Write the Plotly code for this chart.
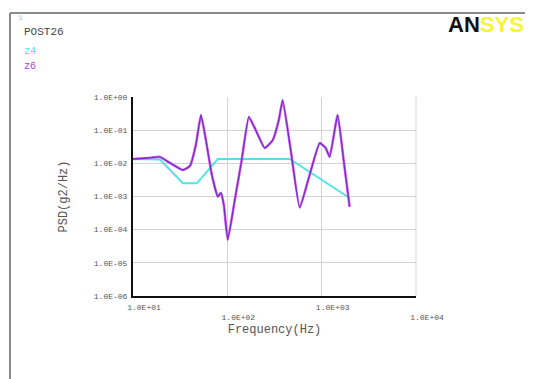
import plotly.graph_objects as go

# ---- data ----
freq_in = [10, 19.3, 33.8, 47.5, 79.3, 458, 1978]
psd_in = [0.0135, 0.013, 0.0025, 0.0025, 0.0135, 0.0135, 0.0009]

freq_out = [10, 14.4, 19.3, 24.6, 33.8, 40.1, 46.4, 52.5, 59.2, 68.5, 79.3, 85.3,
            91.8, 101, 120, 142, 169, 195, 249, 303, 351, 386, 470, 585, 746,
            953, 1103, 1216, 1476, 1709, 1978]
psd_out = [0.0135, 0.0145, 0.0156, 0.0103, 0.0063, 0.0083, 0.036, 0.288, 0.051,
           0.0045, 0.00098, 0.0013, 0.00056, 4.9e-5, 0.00079, 0.0126, 0.25, 0.117,
           0.029, 0.05, 0.2, 0.81, 0.025, 4.6e-4, 0.0045, 0.041, 0.029, 0.0156,
           0.288, 0.0126, 4.9e-4]

series_names = ["z4", "z6"]
x_tick_vals = [10, 100, 1000, 10000]
x_tick_text = ["1.0E+01", "<br>1.0E+02", "1.0E+03", "<br>1.0E+04"]
y_tick_vals = [1, 0.1, 0.01, 0.001, 0.0001, 0.00001, 0.000001]
y_tick_text = ["1.0E+00", "1.0E-01", "1.0E-02", "1.0E-03", "1.0E-04", "1.0E-05", "1.0E-06"]

OFF = 8  # default page body margin
WIN_W, WIN_H = 533, 379
W, H = WIN_W - OFF, WIN_H - OFF
# plot area in window pixels
L, R, T, B = 133, 416, 97, 296

MONO = "Liberation Mono, DejaVu Sans Mono, monospace"
CYAN = "#52e4e4"

fig = go.Figure()
fig.add_trace(go.Scatter(x=freq_in, y=psd_in, mode="lines",
                         line=dict(color=CYAN, width=2), name=series_names[0]))
fig.add_trace(go.Scatter(x=freq_out, y=psd_out, mode="lines",
                         line=dict(color="#d865f2", width=2.6, shape="spline", smoothing=0.4),
                         hoverinfo="skip", showlegend=False))
fig.add_trace(go.Scatter(x=freq_out, y=psd_out, mode="lines",
                         line=dict(color="#7430c4", width=1.3, shape="spline", smoothing=0.4),
                         name=series_names[1]))


def px_x(p):
    return (p - L) / (R - L)


def px_y(p):
    return (B - p) / (B - T)


fig.update_layout(
    width=W, height=H, autosize=False,
    margin=dict(l=L - OFF, r=WIN_W - R, t=T - OFF, b=WIN_H - B, pad=0),
    paper_bgcolor="white", plot_bgcolor="white",
    showlegend=False,
    xaxis=dict(type="log", range=[1, 4], tickvals=x_tick_vals, ticktext=x_tick_text,
               showgrid=True, gridcolor="#d4d4d4", gridwidth=1,
               showline=True, linecolor="#111", linewidth=2, ticks="",
               zeroline=False, ticklabelshift=11, ticklabelstandoff=2,
               tickfont=dict(family=MONO, size=8, color="#555"),
               title=dict(text="Frequency(Hz)", standoff=4,
                          font=dict(family=MONO, size=12, color="#555"))),
    yaxis=dict(type="log", range=[-6, 0], tickvals=y_tick_vals, ticktext=y_tick_text,
               showgrid=True, gridcolor="#d4d4d4", gridwidth=1,
               showline=True, linecolor="#111", linewidth=2, ticks="",
               zeroline=False, ticklabelstandoff=2,
               tickfont=dict(family=MONO, size=8, color="#555"),
               title=dict(text="PSD(g2/Hz)", standoff=24,
                          font=dict(family=MONO, size=12, color="#555"))),
)

# frame (top and left border of the window)
fig.add_shape(type="line", xref="paper", yref="paper",
              x0=px_x(10), x1=px_x(WIN_W + 5), y0=px_y(13), y1=px_y(13),
              line=dict(color="#8a8a8a", width=2))
fig.add_shape(type="line", xref="paper", yref="paper",
              x0=px_x(10), x1=px_x(10), y0=px_y(13), y1=px_y(WIN_H + 5),
              line=dict(color="#8a8a8a", width=2))
# right plot border gridline
fig.add_shape(type="line", xref="paper", yref="paper",
              x0=1, x1=1, y0=0, y1=1, line=dict(color="#d4d4d4", width=1))

texts = [
    ("1", 16, 18, 8, "#7fd8d8"),
    ("POST26", 22, 32, 11, "#444"),
    (series_names[0], 22, 51, 10, CYAN),
    (series_names[1], 22, 66, 10, "#b040e0"),
]
for t, x, y, s, c in texts:
    fig.add_annotation(text=t, xref="paper", yref="paper", x=px_x(x), y=px_y(y),
                       xanchor="left", yanchor="middle", showarrow=False,
                       font=dict(family=MONO, size=s, color=c))

fig.add_annotation(text="<b>AN</b><b><span style='color:#f4f43a'>SYS</span></b>",
                   xref="paper", yref="paper", x=px_x(446), y=px_y(24),
                   xanchor="left", yanchor="middle", showarrow=False,
                   font=dict(family="Liberation Sans, Arial, sans-serif", size=22,
                             color="#111"))

fig.write_html("out.html", config={"displayModeBar": False})
